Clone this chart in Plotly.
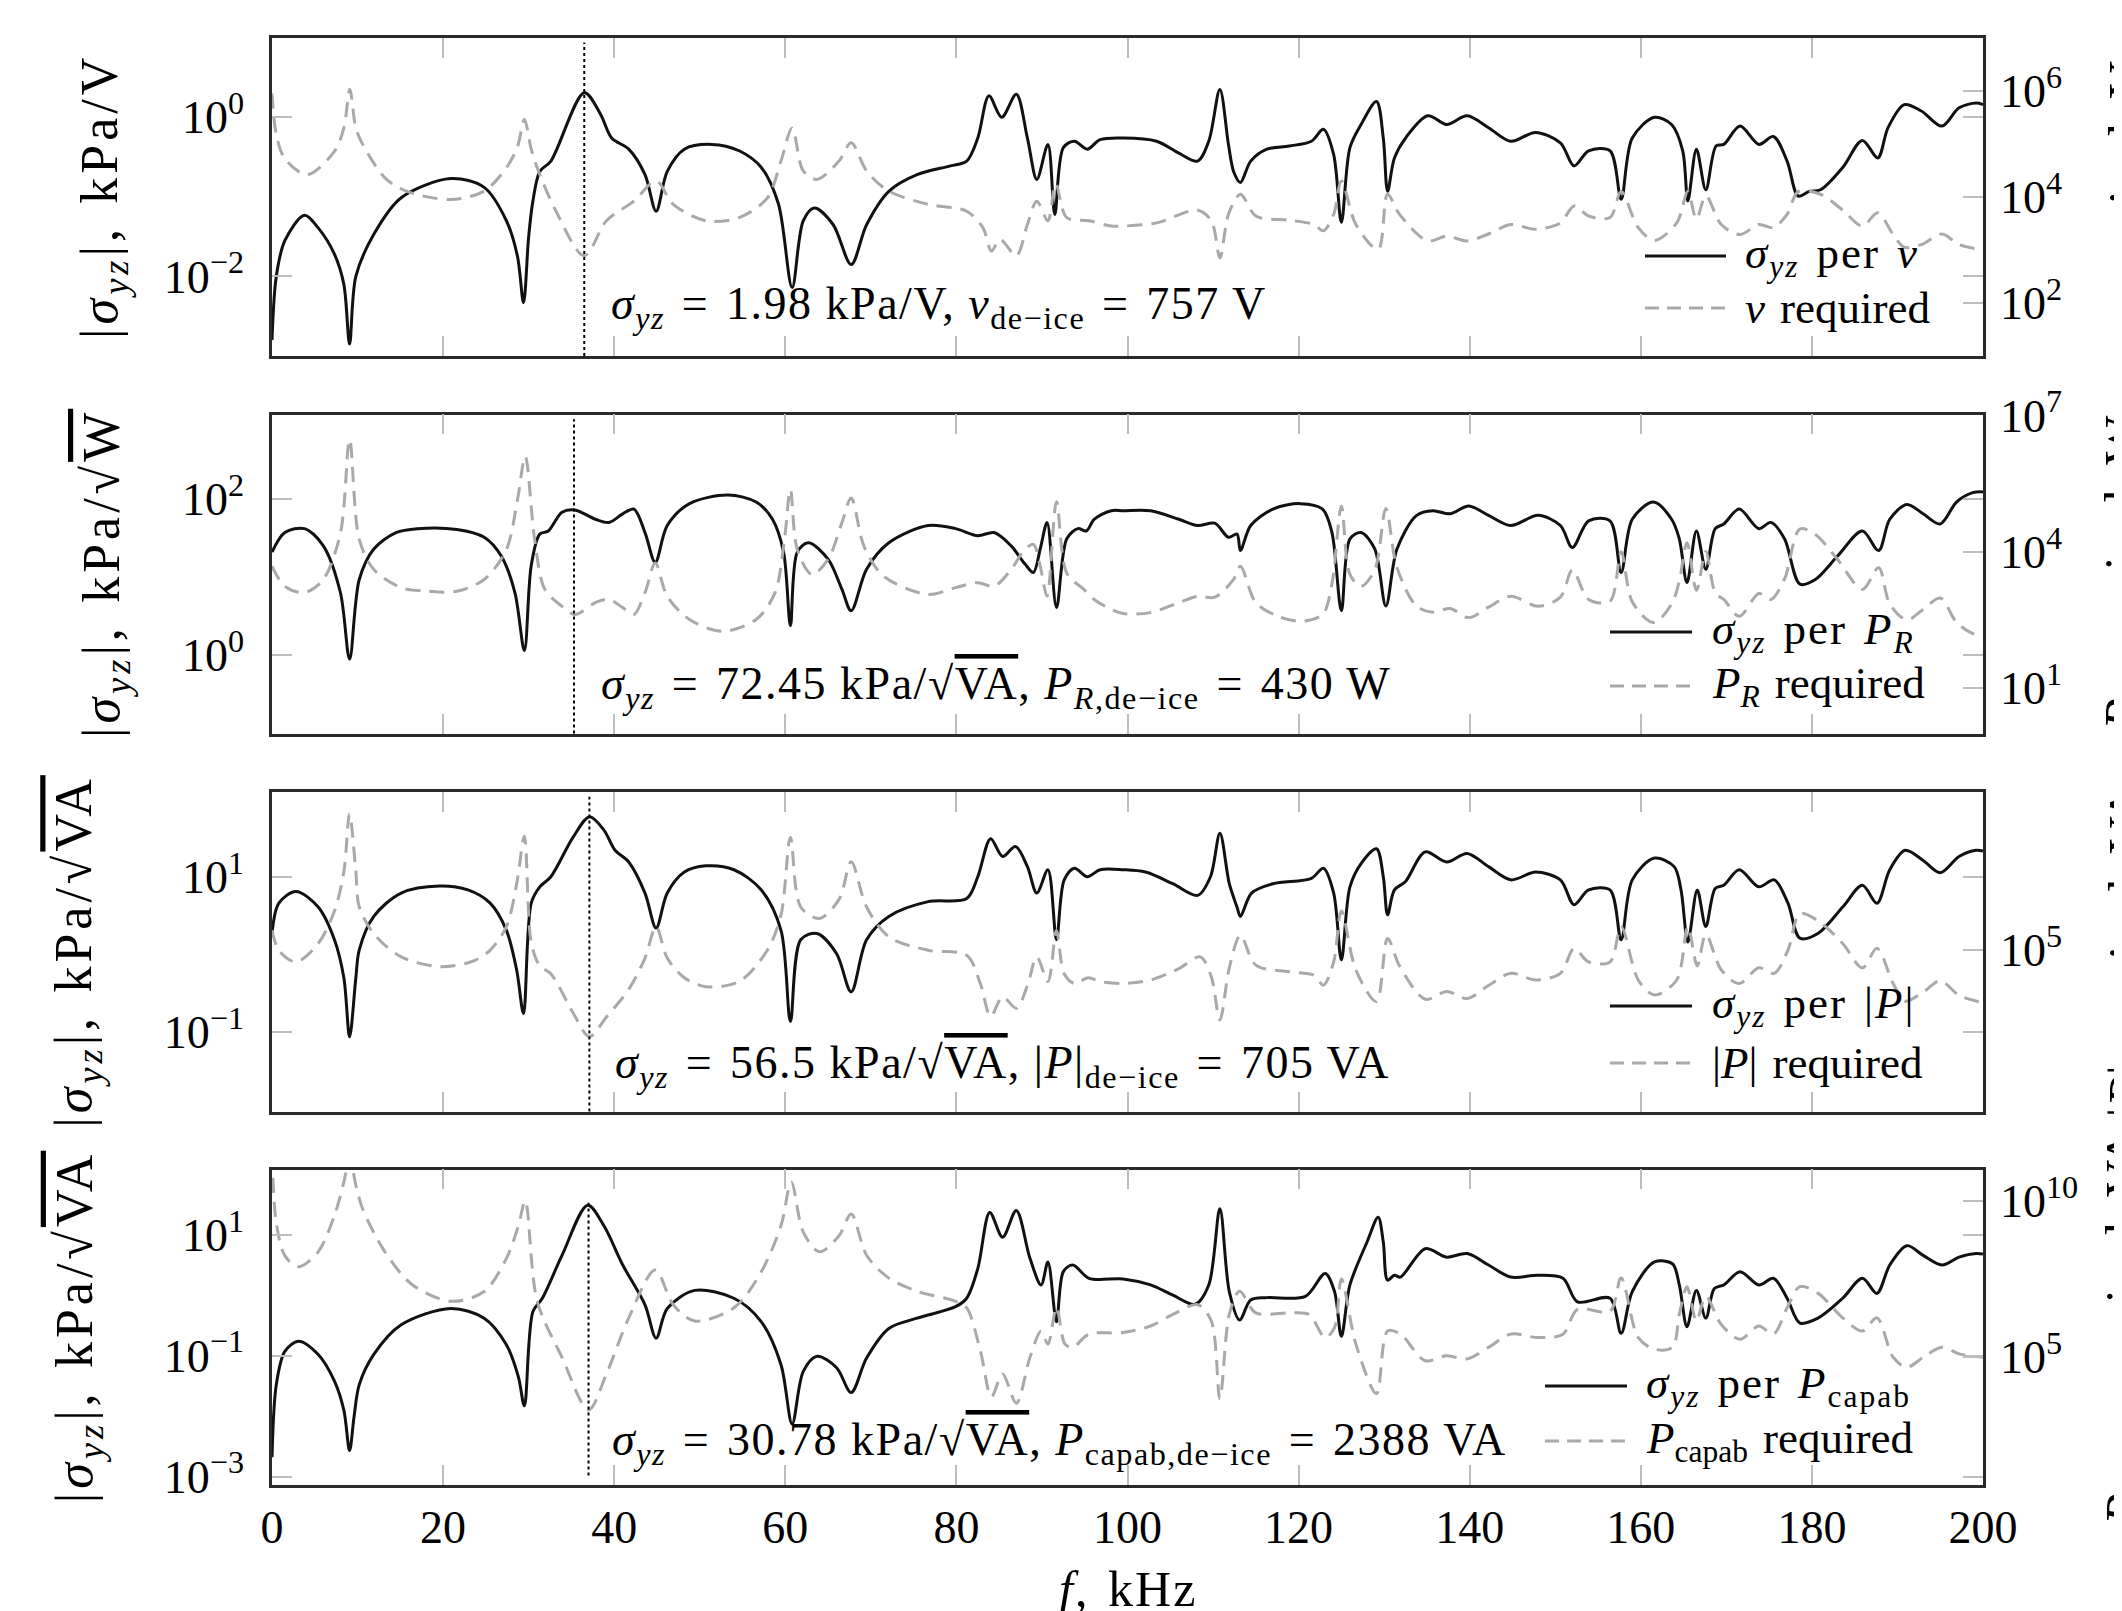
import plotly.graph_objects as go

W, H = 2122, 1611

# ---------------- data: (frequency in kHz, log10 of magnitude) ----------------
# Panel 1: sigma_yz per v  [kPa/V]  and  v required [V]
p1_sigma = [(0, -2.8), (0.5, -2.0), (1.5, -1.55), (3.8, -1.23), (5.4, -1.39), (7.3, -1.72), (8.4, -2.1),
            (9.07, -2.85), (9.8, -2.0), (11.9, -1.47), (15.1, -1.01), (20.9, -0.77), (24.8, -0.88),
            (27.4, -1.30), (28.7, -1.75), (29.4, -2.33), (30.0, -1.5), (30.5, -1.05), (31.3, -0.68),
            (32.6, -0.55), (36.5, 0.31), (38.4, 0.04), (39.7, -0.26), (41.7, -0.40), (43.6, -0.72),
            (44.9, -1.18), (46.2, -0.68), (48.2, -0.40), (51.4, -0.34), (54.6, -0.42), (57.2, -0.63),
            (59.2, -1.09), (60.8, -2.14), (62.1, -1.30), (63.4, -1.14), (65.6, -1.35), (67.7, -1.85),
            (69.5, -1.35), (72.1, -0.93), (75.4, -0.72), (79.3, -0.61), (81.2, -0.55), (82.5, -0.26),
            (83.8, 0.27), (85.3, 0.0), (87.0, 0.29), (88.3, -0.26), (89.4, -0.78), (90.7, -0.34),
            (91.5, -1.22), (92.5, -0.38), (93.8, -0.30), (95.3, -0.40), (96.8, -0.28), (99.5, -0.26),
            (103.4, -0.30), (106.0, -0.45), (108.2, -0.55), (109.5, -0.30), (110.8, 0.35), (111.8, -0.34),
            (112.4, -0.68), (113.2, -0.82), (114.4, -0.55), (116.3, -0.40), (118.9, -0.36), (121.5, -0.30),
            (122.9, -0.15), (124.1, -0.47), (125.0, -1.32), (126.0, -0.38), (127.3, -0.09), (129.1, 0.20),
            (129.9, -0.26), (130.4, -0.93), (131.2, -0.51), (132.5, -0.26), (135.1, 0.02), (137.3, -0.09),
            (139.7, 0.02), (142.2, -0.13), (144.8, -0.30), (147.7, -0.19), (150.6, -0.32), (152.2, -0.61),
            (153.9, -0.42), (156.4, -0.42), (157.7, -1.03), (159.0, -0.26), (161.6, 0.0), (163.6, -0.09),
            (164.9, -0.42), (165.5, -1.05), (166.5, -0.40), (167.6, -0.91), (168.8, -0.36), (169.7, -0.34),
            (171.6, -0.11), (173.8, -0.34), (175.5, -0.24), (177.1, -0.55), (178.4, -0.99), (179.7, -0.93),
            (181.0, -0.91), (183.6, -0.63), (185.9, -0.29), (187.7, -0.51), (188.9, -0.13), (190.8, 0.16),
            (192.8, 0.08), (195.2, -0.11), (197.2, 0.12), (199.2, 0.18), (200, 0.16)]
p1_required = [(0, 5.95), (0.5, 5.18), (1.5, 4.72), (4.1, 4.42), (7.3, 4.86), (8.4, 5.3), (9.1, 6.03),
               (9.8, 5.3), (10.6, 4.99), (13.2, 4.36), (15.7, 4.11), (20.9, 3.95), (24.8, 4.11), (27.4, 4.55),
               (28.7, 4.95), (29.5, 5.46), (30.3, 4.9), (31.0, 4.55), (33.2, 3.73), (36.5, 2.89), (39.1, 3.55),
               (42.3, 3.92), (44.9, 4.3), (46.9, 3.86), (50.7, 3.55), (54.6, 3.61), (57.9, 3.98), (59.5, 4.68),
               (60.8, 5.30), (62.1, 4.49), (63.7, 4.33), (66.3, 4.68), (67.7, 5.02), (69.5, 4.49), (72.1, 4.11),
               (76.7, 3.86), (81.2, 3.73), (83.1, 3.42), (84.1, 2.98), (85.1, 3.20), (87.0, 2.89), (88.3, 3.48),
               (89.4, 3.92), (90.7, 3.55), (91.6, 4.25), (92.9, 3.61), (95.5, 3.55), (98.1, 3.45), (99.5, 3.45),
               (103.4, 3.51), (108.2, 3.75), (109.8, 3.55), (110.8, 2.85), (111.8, 3.67), (113.2, 4.05),
               (115.0, 3.64), (118.9, 3.56), (121.8, 3.48), (122.9, 3.36), (124.1, 3.67), (125.0, 4.3),
               (126.7, 3.48), (129.3, 3.01), (130.4, 4.05), (131.8, 3.67), (135.1, 3.17), (137.3, 3.26),
               (139.7, 3.17), (142.2, 3.3), (144.8, 3.48), (147.7, 3.39), (150.6, 3.51), (152.2, 3.83),
               (153.9, 3.64), (156.4, 3.61), (157.7, 4.1), (159.7, 3.42), (161.6, 3.18), (164.2, 3.51),
               (165.5, 4.1), (166.5, 3.58), (167.6, 4.02), (169.4, 3.48), (171.6, 3.29), (173.8, 3.48),
               (175.5, 3.42), (177.1, 3.67), (178.4, 4.1), (181.0, 4.05), (183.6, 3.75), (185.9, 3.45),
               (187.7, 3.70), (189.5, 3.29), (190.8, 3.05), (192.8, 3.10), (195.2, 3.30), (197.2, 3.10),
               (200, 3.0)]

# Panel 2: sigma_yz per P_R [kPa/sqrt(W)]  and  P_R required [W]
p2_sigma = [(0, 1.32), (1.5, 1.57), (3.8, 1.62), (6.0, 1.40), (8.0, 0.80), (9.07, -0.05), (10.2, 0.97),
            (11.9, 1.36), (14.5, 1.57), (17.0, 1.62), (21.6, 1.61), (24.8, 1.51), (26.8, 1.27), (28.4, 0.80),
            (29.5, 0.06), (30.3, 1.15), (31.3, 1.55), (32.3, 1.59), (33.9, 1.83), (35.4, 1.86), (37.8, 1.74),
            (39.4, 1.70), (41.0, 1.81), (42.3, 1.87), (43.6, 1.57), (44.8, 1.19), (46.2, 1.66), (48.8, 1.94),
            (53.3, 2.05), (56.6, 1.96), (58.5, 1.74), (59.8, 1.32), (60.6, 0.38), (61.4, 1.32), (62.7, 1.44),
            (65.0, 1.23), (66.6, 0.85), (67.7, 0.57), (69.5, 1.10), (72.1, 1.44), (76.7, 1.66), (79.9, 1.62),
            (82.5, 1.53), (84.4, 1.57), (86.4, 1.40), (88.0, 1.17), (89.0, 1.06), (89.8, 1.36), (90.6, 1.70),
            (91.7, 0.61), (92.9, 1.49), (94.2, 1.62), (95.2, 1.59), (96.1, 1.74), (98.1, 1.85), (99.5, 1.85),
            (102.7, 1.85), (106.0, 1.74), (108.2, 1.66), (110.2, 1.69), (111.8, 1.51), (112.8, 1.55),
            (113.2, 1.34), (114.4, 1.66), (117.0, 1.87), (120.2, 1.94), (122.8, 1.87), (123.9, 1.57),
            (125.0, 0.57), (126.0, 1.49), (127.3, 1.57), (128.9, 1.36), (130.2, 0.63), (131.5, 1.36),
            (133.8, 1.79), (135.7, 1.85), (137.7, 1.81), (139.9, 1.91), (142.2, 1.79), (144.8, 1.66),
            (148.0, 1.79), (150.6, 1.66), (152.0, 1.38), (153.9, 1.72), (156.4, 1.72), (157.7, 1.06),
            (159.0, 1.74), (161.5, 1.96), (163.6, 1.74), (164.5, 1.49), (165.4, 0.93), (166.5, 1.59),
            (167.6, 1.10), (168.7, 1.62), (169.7, 1.68), (171.5, 1.87), (173.8, 1.62), (175.2, 1.70),
            (176.8, 1.49), (178.6, 0.91), (180.4, 0.97), (183.0, 1.27), (185.9, 1.59), (187.8, 1.34),
            (189.1, 1.74), (191.1, 1.93), (193.0, 1.81), (195.0, 1.68), (196.9, 1.96), (198.8, 2.08),
            (200, 2.09)]
p2_required = [(0, 3.68), (1.5, 3.24), (3.8, 3.10), (6.0, 3.39), (8.0, 4.41), (9.07, 6.47), (10.2, 4.27),
               (11.9, 3.61), (15.1, 3.21), (18.3, 3.13), (21.6, 3.13), (24.8, 3.39), (27.4, 4.05), (28.7, 5.15),
               (29.6, 6.10), (30.7, 4.27), (31.9, 3.17), (33.9, 2.80), (35.4, 2.62), (37.8, 2.88), (39.4, 2.95),
               (41.0, 2.77), (42.3, 2.62), (43.6, 3.10), (44.8, 3.75), (46.2, 3.02), (48.8, 2.51), (52.7, 2.25),
               (56.6, 2.51), (58.8, 3.10), (59.9, 4.27), (60.6, 5.37), (61.4, 4.05), (63.1, 3.50), (65.0, 3.83),
               (66.6, 4.63), (67.7, 5.18), (69.2, 4.12), (71.5, 3.46), (76.7, 3.06), (79.9, 3.21), (82.5, 3.32),
               (84.4, 3.24), (86.4, 3.61), (88.0, 4.05), (89.0, 4.16), (89.8, 3.68), (90.6, 3.02), (91.7, 5.1),
               (92.9, 3.53), (94.9, 3.17), (96.1, 2.95), (98.1, 2.73), (99.5, 2.64), (102.7, 2.66),
               (106.0, 2.88), (108.2, 3.02), (110.2, 3.0), (112.4, 3.39), (113.2, 3.68), (115.0, 2.88),
               (117.6, 2.58), (120.2, 2.47), (122.8, 2.62), (123.9, 3.3), (125.0, 5.0), (126.0, 3.5),
               (127.3, 3.24), (128.9, 3.6), (130.2, 4.95), (131.5, 3.65), (133.8, 2.8), (135.7, 2.67),
               (137.7, 2.75), (139.9, 2.55), (142.2, 2.78), (144.8, 3.02), (148.0, 2.80), (150.6, 3.0),
               (152.0, 3.6), (153.9, 2.95), (156.4, 2.91), (157.7, 4.0), (159.0, 2.9), (161.5, 2.44),
               (163.6, 2.85), (164.5, 3.35), (165.4, 4.2), (166.5, 3.15), (167.6, 4.0), (168.7, 3.1),
               (169.7, 2.95), (171.5, 2.58), (173.8, 3.08), (175.2, 2.95), (176.8, 3.4), (178.6, 4.5),
               (180.4, 4.38), (183.0, 3.83), (185.9, 3.17), (187.8, 3.65), (189.1, 2.85), (191.1, 2.5),
               (193.0, 2.73), (195.0, 2.98), (196.9, 2.45), (198.8, 2.2), (200, 2.18)]

# Panel 3: sigma_yz per |P| [kPa/sqrt(VA)]  and  |P| required [VA]
p3_sigma = [(0, 0.27), (0.8, 0.66), (2.8, 0.81), (5.4, 0.61), (7.3, 0.19), (8.4, -0.3), (9.07, -1.06),
            (9.8, -0.3), (10.2, 0.06), (11.9, 0.49), (15.1, 0.79), (19.6, 0.88), (22.9, 0.83), (25.5, 0.66),
            (27.4, 0.31), (28.6, -0.20), (29.4, -0.76), (30.3, 0.66), (31.3, 0.87), (32.6, 1.0), (35.2, 1.51),
            (37.1, 1.77), (38.8, 1.60), (40.1, 1.34), (41.7, 1.19), (43.6, 0.79), (44.9, 0.34), (46.2, 0.79),
            (48.2, 1.06), (50.7, 1.14), (54.0, 1.09), (57.2, 0.83), (59.5, 0.31), (60.6, -0.86), (61.8, 0.19),
            (63.7, 0.27), (66.0, 0.01), (67.7, -0.48), (69.5, 0.19), (72.1, 0.49), (76.7, 0.68), (81.2, 0.72),
            (82.5, 1.0), (84.0, 1.49), (85.4, 1.26), (86.9, 1.39), (88.3, 1.13), (89.4, 0.79), (90.7, 1.09),
            (91.7, 0.19), (92.6, 0.96), (93.8, 1.11), (95.3, 1.0), (96.8, 1.09), (99.5, 1.09), (102.1, 1.06),
            (105.3, 0.91), (108.2, 0.76), (109.7, 1.0), (110.8, 1.56), (111.9, 0.91), (112.8, 0.61),
            (113.2, 0.49), (114.5, 0.79), (117.0, 0.91), (121.5, 0.98), (122.9, 1.11), (124.1, 0.79),
            (125.0, -0.07), (126.0, 0.87), (127.3, 1.17), (129.1, 1.36), (129.9, 1.0), (130.4, 0.51),
            (131.2, 0.83), (132.5, 0.94), (134.8, 1.32), (137.3, 1.19), (139.7, 1.30), (142.2, 1.13),
            (144.8, 0.96), (147.7, 1.06), (150.6, 0.96), (152.2, 0.64), (153.9, 0.83), (156.4, 0.83),
            (157.7, 0.19), (159.0, 0.96), (161.6, 1.24), (163.9, 1.13), (164.7, 0.83), (165.5, 0.16),
            (166.6, 0.83), (167.6, 0.36), (168.7, 0.85), (169.7, 0.89), (171.5, 1.09), (173.8, 0.87),
            (175.6, 0.96), (177.2, 0.66), (178.6, 0.21), (180.7, 0.27), (183.6, 0.61), (185.9, 0.89),
            (187.6, 0.66), (189.1, 1.09), (190.9, 1.34), (193.0, 1.21), (195.0, 1.05), (197.2, 1.26),
            (199.2, 1.34), (200, 1.33)]
p3_required = [(0, 5.51), (0.8, 5.0), (2.8, 4.70), (5.4, 5.17), (7.3, 6.0), (8.4, 7.0), (9.07, 8.47),
               (9.8, 7.0), (10.2, 6.1), (11.9, 5.42), (15.1, 4.83), (19.6, 4.58), (23.5, 4.72), (25.5, 5.0),
               (27.4, 5.6), (28.6, 6.69), (29.5, 7.9), (30.3, 5.2), (31.3, 4.6), (32.6, 4.4), (35.2, 3.4),
               (37.1, 2.8), (39.1, 3.3), (41.7, 4.0), (43.6, 4.8), (44.9, 5.6), (46.2, 4.8), (48.2, 4.3),
               (50.7, 4.07), (54.6, 4.2), (57.9, 5.0), (59.5, 5.9), (60.6, 7.88), (61.8, 6.1), (64.0, 5.81),
               (66.3, 6.3), (67.7, 7.25), (69.5, 6.1), (72.1, 5.34), (76.7, 5.0), (81.2, 4.87), (82.8, 4.15),
               (84.0, 3.31), (85.4, 3.81), (87.0, 3.52), (88.3, 4.1), (89.4, 4.83), (90.7, 4.2), (91.7, 5.5),
               (92.6, 4.4), (93.8, 4.15), (95.4, 4.3), (96.8, 4.2), (99.5, 4.15), (102.7, 4.24), (106.0, 4.53),
               (108.5, 4.83), (109.8, 4.32), (110.8, 3.22), (111.9, 4.55), (113.2, 5.38), (115.0, 4.62),
               (118.9, 4.45), (121.8, 4.36), (122.9, 4.11), (124.1, 4.7), (125.0, 6.0), (126.7, 4.49),
               (129.1, 3.69), (130.4, 5.3), (131.8, 4.6), (134.8, 3.75), (137.3, 3.95), (139.7, 3.77),
               (142.2, 4.1), (144.8, 4.41), (147.7, 4.24), (150.6, 4.41), (152.2, 5.04), (153.9, 4.7),
               (156.4, 4.70), (157.7, 5.6), (159.7, 4.24), (161.6, 3.86), (164.2, 4.24), (165.5, 5.6),
               (166.6, 4.6), (167.6, 5.4), (169.4, 4.5), (171.5, 4.15), (173.8, 4.55), (175.6, 4.41),
               (177.2, 5.0), (178.6, 5.93), (180.7, 5.75), (183.6, 5.17), (185.9, 4.55), (187.6, 5.05),
               (189.5, 4.15), (190.9, 3.7), (193.0, 3.93), (195.0, 4.22), (197.2, 3.85), (200, 3.66)]

# Panel 4: sigma_yz per P_capab [kPa/sqrt(VA)]  and  P_capab required [VA]
p4_sigma = [(0, -2.68), (0.5, -1.48), (1.5, -0.93), (3.1, -0.76), (5.4, -0.98), (7.3, -1.42), (8.4, -1.9),
            (9.07, -2.57), (9.6, -2.0), (10.2, -1.48), (11.9, -0.98), (15.1, -0.49), (20.9, -0.22),
            (24.8, -0.38), (27.4, -0.82), (28.8, -1.35), (29.5, -1.83), (30.5, -0.27), (31.6, -0.05),
            (33.9, 0.66), (36.9, 1.49), (38.8, 1.15), (41.0, 0.50), (43.6, -0.16), (44.9, -0.71), (46.2, -0.22),
            (49.4, 0.08), (54.0, -0.05), (57.2, -0.44), (59.5, -1.15), (60.8, -2.13), (62.1, -1.26),
            (63.7, -1.01), (66.0, -1.20), (67.7, -1.61), (69.5, -1.04), (72.1, -0.55), (75.4, -0.38),
            (79.9, -0.19), (81.2, -0.05), (82.5, 0.44), (83.9, 1.37), (85.4, 0.96), (87.0, 1.40), (88.6, 0.61),
            (89.9, 0.17), (90.7, 0.55), (91.7, -0.44), (92.5, 0.39), (93.6, 0.50), (95.5, 0.28), (99.5, 0.27),
            (102.7, 0.17), (105.3, 0.0), (107.9, -0.15), (109.5, 0.17), (110.8, 1.43), (111.9, 0.06),
            (113.1, -0.41), (114.4, -0.08), (116.3, -0.04), (120.8, -0.02), (123.1, 0.36), (124.2, 0.06),
            (125.0, -0.68), (126.0, 0.17), (128.0, 0.88), (129.3, 1.29), (129.9, 0.88), (130.4, 0.25),
            (131.2, 0.33), (131.9, 0.30), (134.8, 0.77), (137.3, 0.63), (139.7, 0.69), (142.2, 0.50),
            (144.8, 0.30), (148.0, 0.33), (150.9, 0.28), (152.6, -0.11), (156.4, -0.05), (157.7, -0.63),
            (159.0, 0.06), (161.6, 0.55), (163.7, 0.52), (164.5, 0.17), (165.4, -0.52), (166.5, 0.08),
            (167.6, -0.38), (168.6, 0.11), (169.7, 0.17), (171.6, 0.39), (173.8, 0.17), (175.5, 0.28),
            (177.1, -0.05), (178.6, -0.46), (180.7, -0.38), (183.6, -0.05), (185.9, 0.28), (187.6, 0.03),
            (189.1, 0.50), (191.1, 0.82), (193.0, 0.66), (195.2, 0.50), (197.2, 0.63), (199.2, 0.69),
            (200, 0.68)]
p4_required = [(0, 11.5), (0.5, 9.3), (1.5, 8.25), (3.1, 7.89), (5.4, 8.37), (7.3, 9.53), (8.4, 10.6),
               (9.07, 11.4), (9.8, 10.5), (10.6, 9.74), (13.2, 8.37), (16.4, 7.32), (20.9, 6.79), (24.8, 7.1),
               (27.4, 8.16), (28.8, 9.2), (29.6, 10.0), (31.0, 6.79), (33.9, 5.0), (37.0, 3.32), (39.1, 4.47),
               (41.7, 6.26), (44.8, 7.79), (46.9, 6.68), (49.4, 6.16), (54.0, 6.58), (57.2, 7.74), (59.5, 9.21),
               (60.7, 10.6), (62.1, 9.0), (64.0, 8.37), (66.3, 8.89), (67.7, 9.58), (69.5, 8.26), (72.1, 7.53),
               (75.4, 7.11), (79.9, 6.79), (81.2, 6.58), (82.8, 5.21), (84.1, 3.74), (85.4, 4.47), (87.0, 3.53),
               (88.6, 5.0), (89.9, 5.84), (90.7, 5.42), (91.7, 6.6), (92.7, 5.42), (93.6, 5.32), (95.5, 5.74),
               (99.5, 5.79), (102.7, 6.0), (105.3, 6.37), (108.2, 6.68), (109.8, 6.16), (110.8, 3.68),
               (111.9, 6.37), (113.1, 7.11), (115.0, 6.42), (118.9, 6.42), (121.2, 6.37), (123.1, 5.63),
               (124.2, 5.95), (125.0, 7.5), (126.7, 5.42), (129.1, 3.84), (130.4, 5.84), (131.9, 5.74),
               (134.8, 4.89), (137.3, 5.05), (139.7, 4.95), (142.2, 5.32), (144.8, 5.74), (148.0, 5.63),
               (150.9, 5.74), (152.6, 6.53), (156.4, 6.47), (157.7, 7.53), (159.7, 5.63), (161.6, 5.26),
               (163.7, 5.32), (164.5, 6.37), (165.4, 7.25), (166.5, 6.16), (167.6, 6.95), (169.4, 6.05),
               (171.6, 5.58), (173.8, 6.0), (175.5, 5.74), (177.1, 6.58), (178.6, 7.26), (180.7, 7.05),
               (183.6, 6.26), (185.9, 5.84), (187.6, 6.26), (189.5, 5.0), (191.1, 4.68), (193.0, 5.0),
               (195.2, 5.32), (197.2, 5.11), (200, 5.0)]

# de-icing frequencies (kHz) marked with dotted lines
deice_freqs = [36.5, 35.3, 37.1, 37.0]

# axis tick exponents
x_ticks = [0, 20, 40, 60, 80, 100, 120, 140, 160, 180, 200]
left_tick_exp = [[-2, 0], [0, 2], [-1, 1], [-3, -1, 1]]
right_tick_exp = [[2, 4, 6], [1, 4, 7], [5], [5, 10]]

# text
OL = "<span style='text-decoration:overline'>"
SP = "\u2004"  # slightly wider space, like TeX math spacing
left_titles = [f"|<i>σ<sub>yz</sub></i>|,{SP}kPa/V",
               f"|<i>σ<sub>yz</sub></i>|,{SP}kPa/√{OL}W</span>",
               f"|<i>σ<sub>yz</sub></i>|,{SP}kPa/√{OL}VA</span>",
               f"|<i>σ<sub>yz</sub></i>|,{SP}kPa/√{OL}VA</span>"]
right_titles = ["<i>v</i> required, V",
                "<i>P<sub>R</sub></i> required, W",
                "|<i>P</i>| required, VA",
                "<i>P</i><sub>capab</sub> required, VA"]
notes = [f"<i>σ<sub>yz</sub></i>{SP}={SP}1.98 kPa/V, <i>v</i><sub>de−ice</sub>{SP}={SP}757 V",
         f"<i>σ<sub>yz</sub></i>{SP}={SP}72.45 kPa/√{OL}VA</span>, "
         f"<i>P</i><sub><i>R</i>,de−ice</sub>{SP}={SP}430 W",
         f"<i>σ<sub>yz</sub></i>{SP}={SP}56.5 kPa/√{OL}VA</span>, "
         f"|<i>P</i>|<sub>de−ice</sub>{SP}={SP}705 VA",
         f"<i>σ<sub>yz</sub></i>{SP}={SP}30.78 kPa/√{OL}VA</span>, "
         f"<i>P</i><sub>capab,de−ice</sub>{SP}={SP}2388 VA"]
legend_sigma = [f"<i>σ<sub>yz</sub></i>{SP}per{SP}<i>v</i>",
                f"<i>σ<sub>yz</sub></i>{SP}per{SP}<i>P<sub>R</sub></i>",
                f"<i>σ<sub>yz</sub></i>{SP}per{SP}|<i>P</i>|",
                f"<i>σ<sub>yz</sub></i>{SP}per{SP}<i>P</i><sub>capab</sub>"]
legend_req = [f"<i>v</i>{SP}required",
              f"<i>P<sub>R</sub></i>{SP}required",
              f"|<i>P</i>|{SP}required",
              f"<i>P</i><sub>capab</sub>{SP}required"]

sigma_series = [p1_sigma, p2_sigma, p3_sigma, p4_sigma]
req_series = [p1_required, p2_required, p3_required, p4_required]

# ---------------- layout geometry (pixels) ----------------
FONT = "Liberation Serif, DejaVu Serif, serif"
X_L, X_R = 264, 1975
panels_px = [(29.8, 348.0), (406.5, 725.5), (784.0, 1103.5), (1161.5, 1477.0)]
left_ranges = [[-3.0, 1.0], [-1.0, 3.08], [-2.02, 2.09], [-3.14, 2.08]]
right_ranges = [[1.0, 7.0], [0.0, 7.02], [0.89, 9.03], [0.92, 11.0]]
left_title_x = [96, 98, 70, 70]
note_pos = [(601, 299), (591, 679), (605, 1058), (602, 1435)]
legend_geo = [  # (line x0, line x1, text x, row1 y, row2 y)
    (1637, 1718, 1735, 248, 300),
    (1602, 1684, 1702, 624, 678),
    (1602, 1684, 1702, 998, 1055),
    (1537, 1619, 1636, 1378, 1433),
]


def px(xp):
    return xp / W


def py(yp):
    return 1 - yp / H


def spaced(txt, ls):
    return f"<span style='letter-spacing:{ls}px'>{txt}</span>"


BLACK = "#111111"
GRAY = "#a9a9a9"
AXIS = "#2a2a2a"
TICKC = "#bdbdbd"

fig = go.Figure()
annotations = []
shapes = []
layout = dict(width=W, height=H, margin=dict(l=0, r=0, t=0, b=0),
              paper_bgcolor="white", plot_bgcolor="white", showlegend=False,
              font=dict(family=FONT, size=46, color="black"))

for k in range(4):
    xn = "x" if k == 0 else f"x{k + 1}"
    yl = f"y{2 * k + 1}" if k > 0 else "y"
    yr = f"y{2 * k + 2}"
    top, bot = panels_px[k]
    dom_y = [py(bot), py(top)]
    dom_x = [px(X_L), px(X_R)]

    s = sigma_series[k]
    r = req_series[k]
    fig.add_trace(go.Scatter(x=[p[0] for p in s], y=[10 ** p[1] for p in s], mode="lines",
                             line=dict(color=BLACK, width=3, shape="spline", smoothing=0.9),
                             name=legend_sigma[k], xaxis=xn, yaxis=yl))
    fig.add_trace(go.Scatter(x=[p[0] for p in r], y=[10 ** p[1] for p in r], mode="lines",
                             line=dict(color=GRAY, width=3, dash="15px,9px", shape="spline", smoothing=0.9),
                             name=legend_req[k], xaxis=xn, yaxis=yr))

    xkey = "xaxis" if k == 0 else f"xaxis{k + 1}"
    ylkey = "yaxis" if k == 0 else f"yaxis{2 * k + 1}"
    yrkey = f"yaxis{2 * k + 2}"

    layout[xkey] = dict(domain=dom_x, range=[0, 200], anchor=yl, showline=True, linecolor=AXIS,
                        linewidth=2.5, mirror="ticks", ticks="inside", ticklen=20, tickwidth=2,
                        tickcolor=TICKC, tickmode="array", tickvals=x_ticks,
                        ticktext=[str(v) for v in x_ticks], showticklabels=(k == 3),
                        tickfont=dict(family=FONT, size=46, color="black"), ticklabelstandoff=0,
                        showgrid=False, zeroline=False, automargin=False)
    lt = left_tick_exp[k]
    layout[ylkey] = dict(domain=dom_y, type="log", range=left_ranges[k], anchor=xn, showline=True,
                         linecolor=AXIS, linewidth=2.5, mirror="ticks", ticks="inside", ticklen=20,
                         tickwidth=2, tickcolor=TICKC, tickmode="array",
                         tickvals=[10 ** e for e in lt],
                         ticktext=[f"10<sup>{'−' if e < 0 else ''}{abs(e)}</sup>" for e in lt],
                         tickfont=dict(family=FONT, size=46, color="black"), ticklabelstandoff=16,
                         showgrid=False, zeroline=False, automargin=False)
    rt = right_tick_exp[k]
    layout[yrkey] = dict(domain=dom_y, type="log", range=right_ranges[k], anchor=xn, overlaying=yl,
                         side="right", showline=False, ticks="inside", ticklen=20, tickwidth=2,
                         tickcolor=TICKC, tickmode="array", tickvals=[10 ** e for e in rt],
                         ticktext=[f"10<sup>{e}</sup>" for e in rt],
                         tickfont=dict(family=FONT, size=46, color="black"), ticklabelstandoff=16,
                         showgrid=False, zeroline=False, automargin=False)

    # dotted de-icing marker
    y0f = 0.03 if k == 3 else 0.0
    y1f = 0.895 if k == 3 else 0.985
    shapes.append(dict(type="line", xref=xn, yref=f"{yl} domain", x0=deice_freqs[k], x1=deice_freqs[k],
                       y0=y0f, y1=y1f, line=dict(color="black", width=2, dash="dot")))

    # left title
    annotations.append(dict(text=spaced(left_titles[k], 4), xref="paper", yref="paper",
                            x=px(left_title_x[k]), y=py((top + bot) / 2), textangle=-90, showarrow=False,
                            xanchor="center", yanchor="middle", font=dict(family=FONT, size=52, color="black")))
    # right title (mostly cut off by the page edge, as in the original)
    annotations.append(dict(text=right_titles[k], xref="paper", yref="paper", x=px(2120),
                            y=py((top + bot) / 2), textangle=-90, showarrow=False, xanchor="center",
                            yanchor="middle", font=dict(family=FONT, size=52, color="black")))
    # note
    nx, ny = note_pos[k]
    annotations.append(dict(text=spaced(notes[k], 1.5), xref="paper", yref="paper", x=px(nx), y=py(ny),
                            showarrow=False, xanchor="left", yanchor="middle",
                            font=dict(family=FONT, size=46, color="black")))
    # legend
    lx0, lx1, tx, r1, r2 = legend_geo[k]
    shapes.append(dict(type="line", xref="paper", yref="paper", x0=px(lx0), x1=px(lx1), y0=py(r1), y1=py(r1),
                       line=dict(color=BLACK, width=3)))
    shapes.append(dict(type="line", xref="paper", yref="paper", x0=px(lx0), x1=px(lx1), y0=py(r2), y1=py(r2),
                       line=dict(color=GRAY, width=3, dash="14px,8px")))
    annotations.append(dict(text=spaced(legend_sigma[k], 2), xref="paper", yref="paper", x=px(tx), y=py(r1),
                            showarrow=False, xanchor="left", yanchor="middle",
                            font=dict(family=FONT, size=45, color="black")))
    annotations.append(dict(text=legend_req[k], xref="paper", yref="paper", x=px(tx), y=py(r2),
                            showarrow=False, xanchor="left", yanchor="middle",
                            font=dict(family=FONT, size=45, color="black")))

# x-axis title
annotations.append(dict(text=spaced(f"<i>f</i>,{SP}kHz", 2), xref="paper", yref="paper",
                        x=px((X_L + X_R) / 2), y=py(1581), showarrow=False, xanchor="center",
                        yanchor="middle", font=dict(family=FONT, size=50, color="black")))

layout["annotations"] = annotations
layout["shapes"] = shapes
fig.update_layout(**layout)
fig.write_html("out.html")
